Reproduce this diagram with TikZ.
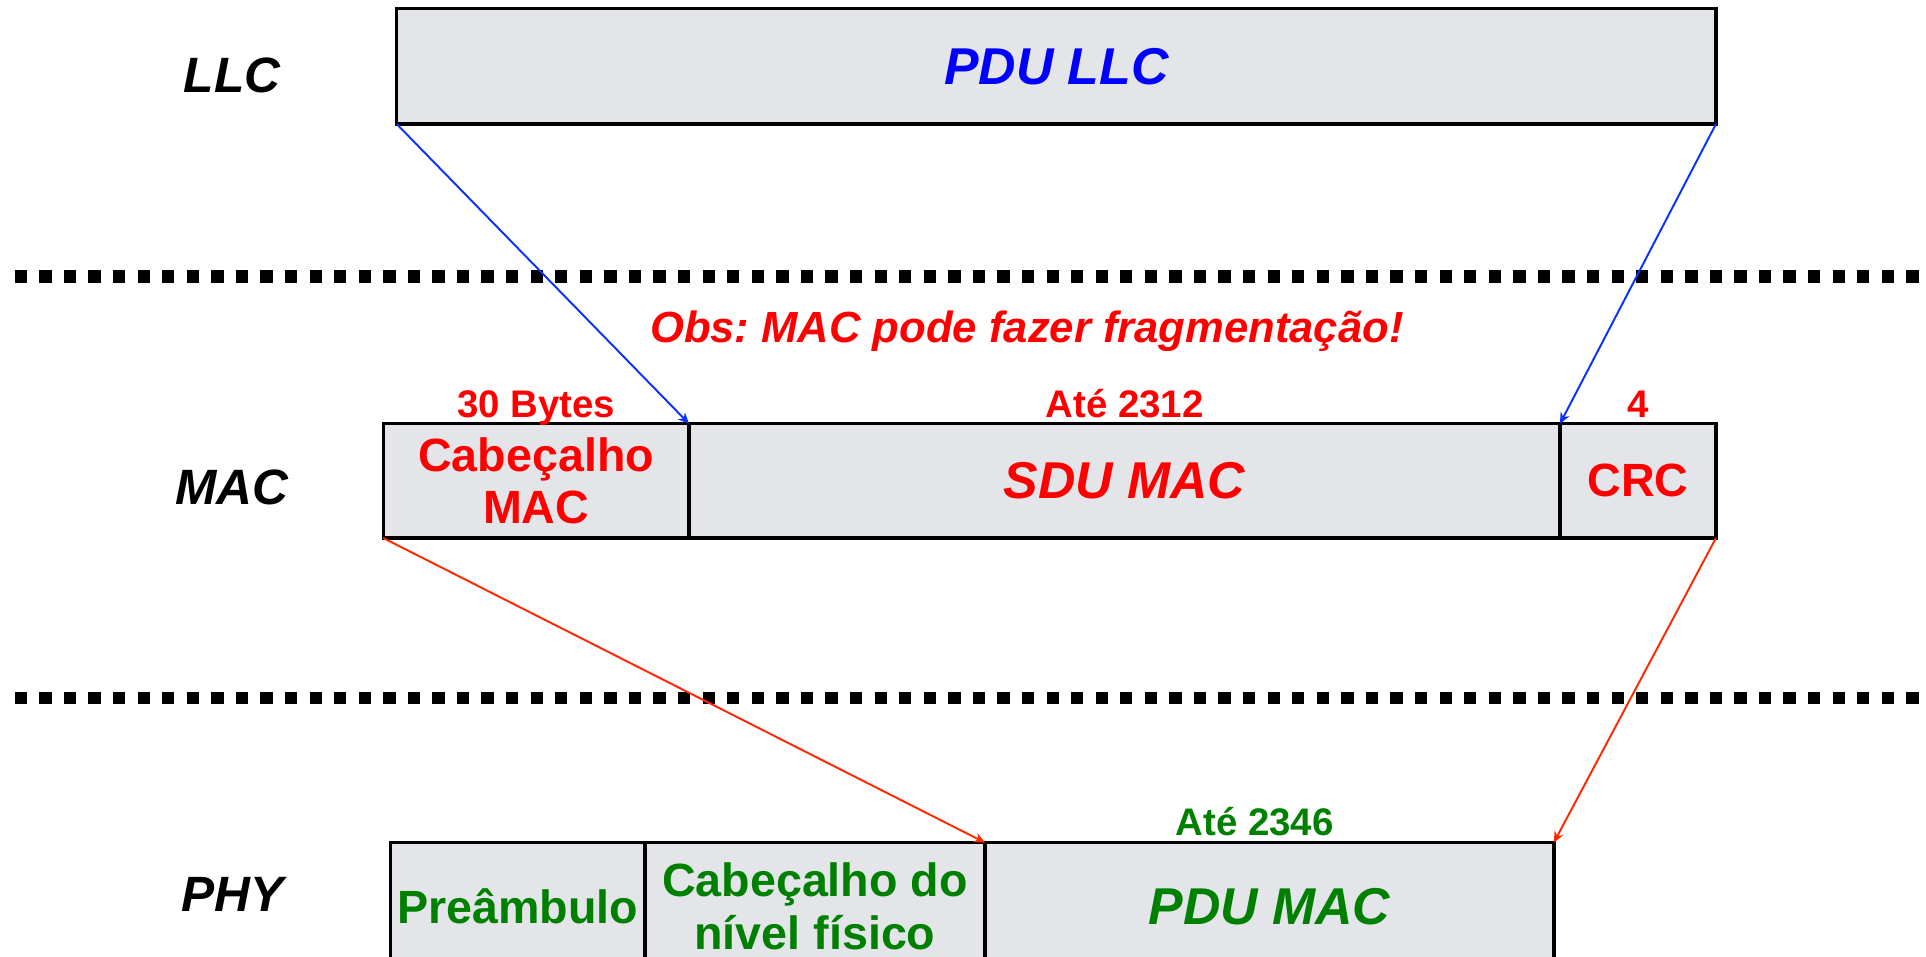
\documentclass[tikz,border=0pt]{standalone}
\usepackage{fontspec}
\setmainfont{Liberation Sans}
\usetikzlibrary{positioning,arrows.meta}
\definecolor{marble}{RGB}{228,229,233}
\definecolor{arrowblue}{RGB}{10,50,255}
\definecolor{arrowred}{RGB}{255,40,0}
\definecolor{labelgreen}{RGB}{0,128,0}
\frenchspacing

\begin{document}
\begin{tikzpicture}[x=0.1mm, y=-0.1mm,
        cell/.style={rectangle, draw=black, line width=0.8pt, fill=marble, inner sep=0pt, outer sep=0pt, align=center},
        bigtext/.style={font=\fontsize{12}{14}\selectfont\bfseries\itshape},
        midtext/.style={font=\fontsize{10.8}{12.2}\selectfont\bfseries},
        sizetext/.style={font=\fontsize{8.9}{10}\selectfont\bfseries, inner sep=0pt, anchor=base},
        layer/.style={font=\fontsize{11.5}{13}\selectfont\bfseries\itshape, inner sep=0pt},
        sepline/.style={line width=1mm, dash pattern=on 1mm off 1mm},
        llcarrow/.style={draw=arrowblue, line width=0.45pt, -{Stealth[length=0.9mm, width=0.8mm]}},
        macarrow/.style={draw=arrowred, line width=0.45pt, -{Stealth[length=0.9mm, width=0.8mm]}}]
        \useasboundingbox (0,0) rectangle (1568,779);

        \draw[sepline] (12,225) -- (1562,225);
        \draw[sepline] (12,568) -- (1562,568);

        \node[layer] (llc) at (189,61) {LLC};
        \node[layer] (mac) at (189,397) {MAC};
        \node[layer] (phy) at (189,728) {PHY};

        \node[cell, bigtext, text=blue, minimum width=107.4mm, minimum height=9.4mm, anchor=north west] (pduLLC) at (323,7) {PDU LLC};

        \node[cell, midtext, text=red, minimum width=24.9mm, minimum height=9.3mm, anchor=north west] (cabMAC) at (312,345) {Cabeçalho\\MAC};
        \node[cell, bigtext, text=red, minimum width=70.9mm, minimum height=9.3mm, right=0pt of cabMAC] (sduMAC) {SDU MAC};
        \node[cell, midtext, text=red, minimum width=12.7mm, minimum height=9.3mm, right=0pt of sduMAC] (crc) {CRC};

        \node[cell, midtext, text=labelgreen, minimum width=20.7mm, minimum height=10.4mm, anchor=north west] (pre) at (318,686) {Preâmbulo};
        \node[cell, midtext, text=labelgreen, minimum width=27.7mm, minimum height=10.4mm, right=0pt of pre] (cabPHY) {Cabeçalho do\\nível físico};
        \node[cell, bigtext, text=labelgreen, minimum width=46.3mm, minimum height=10.4mm, right=0pt of cabPHY] (pduMAC) {PDU MAC};

        \node[sizetext, text=red] (bytes) at ([yshift=0.5mm]cabMAC.north) {30 Bytes};
        \node[sizetext, text=red] (sduSize) at ([yshift=0.5mm]sduMAC.north) {Até 2312};
        \node[sizetext, text=red] (crcSize) at ([yshift=0.5mm]crc.north) {4};
        \node[sizetext, text=labelgreen] (phySize) at ([xshift=-1.2mm, yshift=0.6mm]pduMAC.north) {Até 2346};

        \node[font=\fontsize{10.1}{12}\selectfont\bfseries\itshape, text=red, inner sep=0pt] (obs) at (836,270) {Obs: MAC pode fazer fragmentação!};

        \draw[llcarrow] (pduLLC.south west) -- (sduMAC.north west);
        \draw[llcarrow] (pduLLC.south east) -- (crc.north west);
        \draw[macarrow] (cabMAC.south west) -- (pduMAC.north west);
        \draw[macarrow] (crc.south east) -- (pduMAC.north east);

    \end{tikzpicture}
\end{document}
